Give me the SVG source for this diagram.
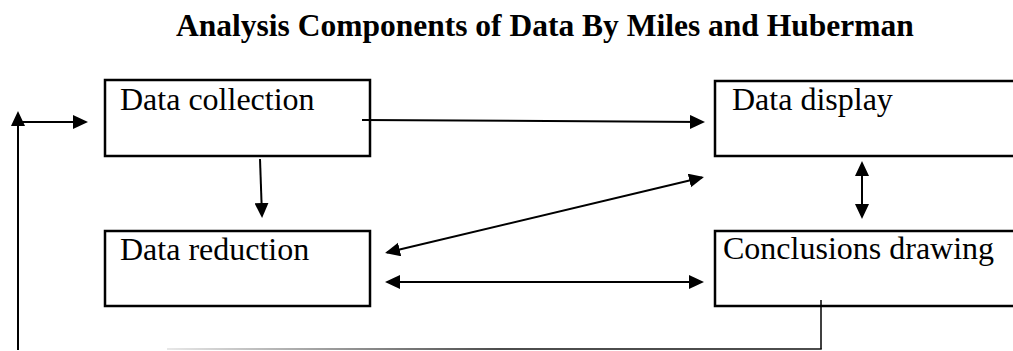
<svg xmlns="http://www.w3.org/2000/svg" width="1013" height="351" viewBox="0 0 1013 351">
  <style>
    .title { font-family: "Liberation Serif", "Times New Roman", serif; font-weight: bold; font-size: 31.5px; fill: #000; }
    .label { font-family: "Liberation Serif", "Times New Roman", serif; font-size: 32px; fill: #000; }
    .box { fill: #fff; stroke: #000; stroke-width: 2.5; }
    .conn { fill: none; stroke: #000; stroke-width: 2; }
    .arrow { marker-end: url(#head); }
    .both { marker-start: url(#head); marker-end: url(#head); }
  </style>
  <defs>
    <marker id="head" markerUnits="userSpaceOnUse" markerWidth="16" markerHeight="15" viewBox="0 0 16 15" refX="13" refY="7" orient="auto-start-reverse">
      <path d="M0,0 L15,7 L0,14 Z" fill="#000"/>
    </marker>
    <linearGradient id="fade" gradientUnits="userSpaceOnUse" x1="167" y1="0" x2="500" y2="0">
      <stop offset="0" stop-color="#e0e0e0"/>
      <stop offset="1" stop-color="#111"/>
    </linearGradient>
  </defs>
  <rect width="1013" height="351" fill="#fff"/>
  <text class="title" x="176" y="36">Analysis Components of Data By Miles and Huberman</text>

  <g id="node-data-collection">
    <rect class="box" x="105" y="80" width="265" height="76"/>
    <text class="label" x="120" y="110">Data collection</text>
  </g>
  <g id="node-data-display">
    <rect class="box" x="715" y="81" width="310" height="75"/>
    <text class="label" x="732" y="110">Data display</text>
  </g>
  <g id="node-data-reduction">
    <rect class="box" x="105" y="231" width="265" height="75"/>
    <text class="label" x="120" y="260">Data reduction</text>
  </g>
  <g id="node-conclusions-drawing">
    <rect class="box" x="715" y="231" width="310" height="75"/>
    <text class="label" x="723" y="259">Conclusions drawing</text>
  </g>

  <g id="connectors">
    <line class="conn arrow" x1="362" y1="120" x2="703" y2="122"/>
    <line class="conn arrow" x1="260" y1="159" x2="262" y2="216"/>
    <line class="conn both" x1="387" y1="252.5" x2="702" y2="177.5"/>
    <line class="conn both" x1="387" y1="282" x2="702" y2="282"/>
    <line class="conn both" x1="862" y1="163" x2="862" y2="217"/>
    <line x1="821" y1="300" x2="821" y2="349" stroke="#000" stroke-width="1.5"/>
    <line x1="167" y1="349" x2="821.75" y2="349" stroke="url(#fade)" stroke-width="1.5"/>
    <line class="conn arrow" x1="18" y1="350" x2="18" y2="113"/>
    <line class="conn arrow" x1="18" y1="122" x2="86" y2="122"/>
  </g>
</svg>
